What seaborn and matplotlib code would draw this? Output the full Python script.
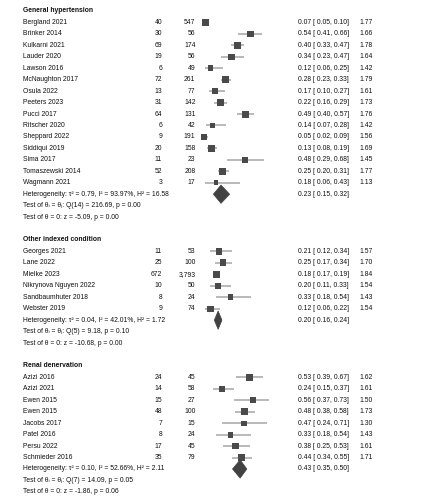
import matplotlib
matplotlib.use("Agg")
import matplotlib.pyplot as plt
from matplotlib.patches import Polygon
import numpy as np
import pandas as pd
import seaborn as sns

# ---- data ---------------------------------------------------------------
gh_names = ["Bergland 2021", "Brinker 2014", "Kulkarni 2021", "Lauder 2020", "Lawson 2016",
            "McNaughton 2017", "Osula 2022", "Peeters 2023", "Pucci 2017", "Ritscher 2020",
            "Sheppard 2022", "Siddiqui 2019", "Sima 2017", "Tomaszewski 2014", "Wagmann 2021"]
gh_events = ["40", "30", "69", "19", "6", "72", "13", "31", "64", "6", "9", "20", "11", "52", "3"]
gh_totals = ["547", "56", "174", "56", "49", "261", "77", "142", "131", "42", "191", "158", "23", "208", "17"]
gh_es = [0.07, 0.54, 0.40, 0.34, 0.12, 0.28, 0.17, 0.22, 0.49, 0.14, 0.05, 0.13, 0.48, 0.25, 0.18]
gh_lo = [0.05, 0.41, 0.33, 0.23, 0.06, 0.23, 0.10, 0.16, 0.40, 0.07, 0.02, 0.08, 0.29, 0.20, 0.06]
gh_hi = [0.10, 0.66, 0.47, 0.47, 0.25, 0.33, 0.27, 0.29, 0.57, 0.28, 0.09, 0.19, 0.68, 0.31, 0.43]
gh_w = [1.77, 1.66, 1.78, 1.64, 1.42, 1.79, 1.61, 1.73, 1.76, 1.42, 1.56, 1.69, 1.45, 1.77, 1.13]
gh_pooled = [0.23, 0.15, 0.32]
gh_stats = ["Heterogeneity: τ² = 0.79, I² = 93.97%, H² = 16.58",
            "Test of θᵢ = θⱼ: Q(14) = 216.69, p = 0.00",
            "Test of θ = 0: z = -5.09, p = 0.00"]

oi_names = ["Georges 2021", "Lane 2022", "Mielke 2023", "Nikrynova Nguyen 2022",
            "Sandbaumhuter 2018", "Webster 2019"]
oi_events = ["11", "25", "672", "10", "8", "9"]
oi_totals = ["53", "100", "3,793", "50", "24", "74"]
oi_es = [0.21, 0.25, 0.18, 0.20, 0.33, 0.12]
oi_lo = [0.12, 0.17, 0.17, 0.11, 0.18, 0.06]
oi_hi = [0.34, 0.34, 0.19, 0.33, 0.54, 0.22]
oi_w = [1.57, 1.70, 1.84, 1.54, 1.43, 1.54]
oi_pooled = [0.20, 0.16, 0.24]
oi_stats = ["Heterogeneity: τ² = 0.04, I² = 42.01%, H² = 1.72",
            "Test of θᵢ = θⱼ: Q(5) = 9.18, p = 0.10",
            "Test of θ = 0: z = -10.68, p = 0.00"]

rd_names = ["Azizi 2016", "Azizi 2021", "Ewen 2015", "Ewen 2015", "Jacobs 2017",
            "Patel 2016", "Persu 2022", "Schmieder 2016"]
rd_events = ["24", "14", "15", "48", "7", "8", "17", "35"]
rd_totals = ["45", "58", "27", "100", "15", "24", "45", "79"]
rd_es = [0.53, 0.24, 0.56, 0.48, 0.47, 0.33, 0.38, 0.44]
rd_lo = [0.39, 0.15, 0.37, 0.38, 0.24, 0.18, 0.25, 0.34]
rd_hi = [0.67, 0.37, 0.73, 0.58, 0.71, 0.54, 0.53, 0.55]
rd_w = [1.62, 1.61, 1.50, 1.73, 1.30, 1.43, 1.61, 1.71]
rd_pooled = [0.43, 0.35, 0.50]
rd_stats = ["Heterogeneity: τ² = 0.10, I² = 52.66%, H² = 2.11",
            "Test of θᵢ = θⱼ: Q(7) = 14.09, p = 0.05",
            "Test of θ = 0: z = -1.86, p = 0.06"]

groups = [
    ("General hypertension", gh_names, gh_events, gh_totals, gh_es, gh_lo, gh_hi, gh_w, gh_pooled, gh_stats),
    ("Other indexed condition", oi_names, oi_events, oi_totals, oi_es, oi_lo, oi_hi, oi_w, oi_pooled, oi_stats),
    ("Renal denervation", rd_names, rd_events, rd_totals, rd_es, rd_lo, rd_hi, rd_w, rd_pooled, rd_stats),
]

# ---- layout -------------------------------------------------------------
sns.set_style("white")
plt.rcParams["font.family"] = ["Liberation Sans", "DejaVu Sans"]

W, H, DPI = 444, 500, 100
ROW_PX, TOP_PX = 11.45, 11.0      # row pitch and first row centre (pixels)
ZERO_PX, UNIT_PX = 199.0, 95.7    # x position of effect 0 and px per unit

fig = plt.figure(figsize=(W / DPI, H / DPI), dpi=DPI)
ax = fig.add_axes([0, 0, 1, 1])
ax.set_xlim(-ZERO_PX / UNIT_PX, (W - ZERO_PX) / UNIT_PX)
ax.set_ylim((H - TOP_PX) / ROW_PX, -TOP_PX / ROW_PX)
ax.axis("off")

tr = ax.get_yaxis_transform()   # x in axes fraction, y in rows
col_name, col_ev, col_tot, col_es, col_w = 23 / W, 162 / W, 195.5 / W, 298 / W, 359 / W
FS = 4.9
TXT = "#111111"
SQ, CI, DM = "#4a4a4a", "#a6a6a6", "#424242"

rows = []
r = 0
for title, names, ev, tot, es, lo, hi, w, pooled, stats in groups:
    ax.text(col_name, r, title, transform=tr, fontsize=FS, fontweight="bold", va="center", color=TXT)
    r += 1
    for i in range(len(names)):
        rows.append(dict(row=r, es=es[i], lo=lo[i], hi=hi[i], w=w[i]))
        ax.text(col_name, r, names[i], transform=tr, fontsize=FS, va="center", color=TXT)
        ax.text(col_ev, r, ev[i], transform=tr, fontsize=FS, va="center", ha="right", color=TXT)
        ax.text(col_tot, r, tot[i], transform=tr, fontsize=FS, va="center", ha="right", color=TXT)
        ax.text(col_es, r, f"{es[i]:.2f} [ {lo[i]:.2f}, {hi[i]:.2f}]", transform=tr,
                fontsize=FS, va="center", color=TXT)
        ax.text(col_w, r, f"{w[i]:.2f}", transform=tr, fontsize=FS, va="center", color=TXT)
        r += 1
    # pooled estimate drawn as diamond on the heterogeneity row
    p, plo, phi = pooled
    ax.add_patch(Polygon([(plo, r), (p, r - 0.8), (phi, r), (p, r + 0.8)],
                         closed=True, facecolor=DM, edgecolor=DM, lw=0.5, zorder=3))
    ax.text(col_es, r, f"{p:.2f} [ {plo:.2f}, {phi:.2f}]", transform=tr, fontsize=FS,
            va="center", color=TXT)
    for s in stats:
        ax.text(col_name, r, s, transform=tr, fontsize=FS, va="center", color=TXT)
        r += 1
    r += 1

df = pd.DataFrame(rows)
ax.hlines(df["row"], df["lo"], df["hi"], color=CI, lw=1.1, zorder=1)
# square side proportional to weight
df["area"] = (4.0 * df["w"] * 72 / DPI) ** 2
sns.scatterplot(data=df, x="es", y="row", size="area",
                sizes=(df["area"].min(), df["area"].max()), marker="s",
                color=SQ, edgecolor=SQ, linewidth=0, legend=False, ax=ax, zorder=2)
ax.set_xlabel("")
ax.set_ylabel("")

fig.savefig("out.png", dpi=DPI)
